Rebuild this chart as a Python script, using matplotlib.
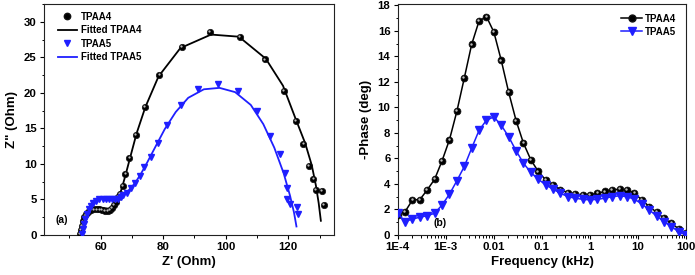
import numpy as np
import matplotlib
matplotlib.use("Agg")
import matplotlib.pyplot as plt
from matplotlib.ticker import MultipleLocator, FixedLocator, FixedFormatter, LogLocator, NullFormatter
from matplotlib.transforms import offset_copy
from matplotlib.lines import Line2D

plt.rcParams['font.family'] = ['Liberation Sans', 'DejaVu Sans']
plt.rcParams['font.weight'] = 'bold'

# ---------------- Panel (a) Nyquist data ----------------
tpaa4_zr = [53.4, 53.6, 53.9, 54.3, 54.8, 55.4, 56.1, 56.9, 57.8, 58.7, 59.6, 60.5, 61.4, 62.2,
            63.0, 63.7, 64.3, 64.8, 65.4, 66.2, 67.0, 67.9, 69.2, 71.2, 74.2, 78.8, 86.0, 95.0,
            104.4, 112.6, 118.7, 122.4, 124.8, 126.7, 128.0, 128.7, 130.7, 131.5]
tpaa4_zi = [0.2, 0.7, 1.3, 1.9, 2.5, 2.9, 3.3, 3.5, 3.6, 3.6, 3.6, 3.5, 3.4, 3.4,
            3.5, 3.8, 4.2, 4.7, 5.3, 5.8, 6.9, 8.6, 10.9, 14.1, 18.0, 22.5, 26.5, 28.6,
            27.9, 24.7, 20.3, 16.1, 12.8, 9.75, 7.9, 6.3, 6.2, 4.2]
fit4_zr = [53.3, 53.6, 54.2, 55.2, 56.5, 58.0, 59.5, 61.0, 62.5, 63.8, 64.8, 65.8, 66.8, 68.0,
           69.5, 71.5, 74.3, 78.5, 85.5, 95.3, 104.2, 112.8, 118.3, 122.2, 125.4, 127.5,
           128.8, 129.7, 130.4]
fit4_zi = [0.0, 1.0, 2.0, 2.9, 3.5, 3.8, 3.9, 3.8, 3.7, 3.9, 4.4, 5.3, 6.6, 8.5,
           11.0, 14.3, 18.0, 22.3, 26.3, 28.2, 27.9, 24.8, 21.0, 16.5, 12.9, 9.8,
           7.0, 4.5, 2.0]
tpaa5_zr = [54.2, 54.4, 54.7, 55.1, 55.6, 56.2, 56.9, 57.7, 58.6, 59.6, 60.6, 61.6, 62.6, 63.6,
            64.6, 65.5, 66.4, 67.3, 68.3, 69.7, 71.0, 72.6, 73.9, 76.0, 78.4, 81.3, 85.7, 91.0,
            97.6, 104.0, 109.9, 114.3, 117.4, 118.8, 119.5, 119.7, 120.6, 122.7, 123.2]
tpaa5_zi = [0.2, 0.8, 1.5, 2.2, 2.9, 3.6, 4.1, 4.5, 4.8, 5.0, 5.1, 5.1, 5.1, 5.0,
            5.0, 5.1, 5.3, 5.6, 5.9, 6.6, 7.3, 8.3, 9.6, 11.0, 13.0, 15.5, 18.3, 20.5,
            21.3, 20.2, 17.5, 13.9, 11.4, 8.7, 6.6, 5.0, 4.4, 4.0, 3.0]
fit5_zr = [53.8, 54.5, 55.5, 57.0, 59.0, 61.0, 63.0, 65.0, 67.0, 69.0, 71.0, 73.0, 75.0, 77.5,
           80.5, 84.0, 88.0, 93.0, 98.0, 103.0, 108.0, 112.0, 115.5, 118.5, 120.5, 121.8, 122.6]
fit5_zi = [0.0, 1.5, 3.0, 4.3, 5.0, 5.2, 5.1, 5.0, 5.5, 6.3, 7.3, 8.7, 10.3, 12.4,
           14.9, 17.3, 19.3, 20.5, 20.7, 20.1, 18.3, 15.6, 12.3, 8.7, 5.6, 3.2, 1.2]

# ---------------- Panel (b) Bode phase data ----------------
freq_khz = [1.0e-4, 1.426e-4, 2.03e-4, 2.90e-4, 4.12e-4, 5.87e-4, 8.38e-4, 1.194e-3, 1.70e-3,
            2.43e-3, 3.45e-3, 4.92e-3, 7.02e-3, 0.01, 0.01425, 0.0203, 0.029, 0.0412, 0.0587,
            0.0838, 0.119, 0.170, 0.243, 0.345, 0.492, 0.702, 1.0, 1.425, 2.03, 2.90, 4.12,
            5.87, 8.38, 11.94, 17.0, 24.3, 34.5, 49.2, 70.2, 100.0]
phase4 = [1.6, 1.83, 2.75, 2.78, 3.54, 4.37, 5.82, 7.47, 9.69, 12.31, 14.93, 16.77, 17.11,
          15.90, 13.68, 11.19, 8.96, 7.2, 5.89, 4.98, 4.32, 3.93, 3.54, 3.33, 3.2, 3.14, 3.14,
          3.27, 3.41, 3.54, 3.59, 3.54, 3.27, 2.75, 2.23, 1.78, 1.31, 0.92, 0.47, 0.13]
phase5 = [1.7, 1.05, 1.26, 1.39, 1.52, 1.7, 2.36, 3.2, 4.25, 5.37, 6.8, 8.2, 9.0, 9.25,
          8.6, 7.7, 6.6, 5.63, 4.9, 4.37, 3.93, 3.59, 3.27, 3.01, 2.88, 2.8, 2.75, 2.8, 2.88,
          3.01, 3.07, 3.01, 2.8, 2.44, 1.96, 1.49, 1.05, 0.65, 0.26, 0.0]
xtick_vals = [1e-4, 1e-3, 1e-2, 1e-1, 1, 10, 100]
xtick_labels = ['1E-4', '1E-3', '0.01', '0.1', '1', '10', '100']

BLUE = '#1f1fff'
W, H = 695, 275
fig = plt.figure(figsize=(W / 100, H / 100), dpi=100)

axa = fig.add_axes([44 / W, (H - 235) / H, 290 / W, 231 / H])
axb = fig.add_axes([397.7 / W, (H - 235) / H, 288.5 / W, 231 / H])

TICKFS = 8.2
LABFS = 9.5


def style(ax):
    for s in ax.spines.values():
        s.set_linewidth(0.8)
        s.set_color('#222222')
    ax.tick_params(which='major', direction='out', length=3.2, width=0.8, labelsize=TICKFS, pad=2)
    ax.tick_params(which='minor', direction='out', length=1.8, width=0.7)
    ax.tick_params(top=False, right=False, which='both')
    for lab in ax.get_xticklabels() + ax.get_yticklabels():
        lab.set_fontweight('bold')


def sphere(ax, x, y, size, zorder=3):
    ax.plot(x, y, 'o', ms=size, mfc='black', mec='#111111', mew=0.5, ls='none', zorder=zorder)
    tr = offset_copy(ax.transData, fig=fig, x=-0.6, y=0.6, units='points')
    ax.plot(x, y, 'o', ms=size * 0.35, mfc='#bbbbbb', mec='none', ls='none', zorder=zorder + 0.1,
            transform=tr)


# ---- panel a
axa.plot(fit4_zr, fit4_zi, '-', color='black', lw=1.3, zorder=2)
axa.plot(fit5_zr, fit5_zi, '-', color=BLUE, lw=1.3, zorder=2)
sphere(axa, tpaa4_zr, tpaa4_zi, 4.6, zorder=3)
axa.plot(tpaa5_zr, tpaa5_zi, 'v', ms=4.8, color=BLUE, mec=BLUE, ls='none', zorder=4)
axa.set_xlim(41.9, 134.6)
axa.set_ylim(0, 32.5)
axa.xaxis.set_major_locator(MultipleLocator(20))
axa.xaxis.set_minor_locator(MultipleLocator(10))
axa.yaxis.set_major_locator(MultipleLocator(5))
axa.yaxis.set_minor_locator(MultipleLocator(2.5))
style(axa)
axa.set_xlabel("Z' (Ohm)", fontsize=LABFS, fontweight='bold', labelpad=3)
axa.set_ylabel('Z" (Ohm)', fontsize=LABFS, fontweight='bold', labelpad=4)
axa.text(0.04, 0.05, '(a)', transform=axa.transAxes, fontsize=7.5, fontweight='bold')

h4 = Line2D([], [], marker='o', ms=4.6, mfc='black', mec='#111111', ls='none')
h4f = Line2D([], [], color='black', lw=1.3)
h5 = Line2D([], [], marker='v', ms=4.8, color=BLUE, ls='none')
h5f = Line2D([], [], color=BLUE, lw=1.3)
axa.legend([h4, h4f, h5, h5f], ['TPAA4', 'Fitted TPAA4', 'TPAA5', 'Fitted TPAA5'],
           loc='upper left', bbox_to_anchor=(0.02, 1.0), frameon=False,
           prop={'weight': 'bold', 'size': 7}, handlelength=2.0, handletextpad=0.4,
           labelspacing=0.35, borderaxespad=0.4)

# ---- panel b
axb.set_xscale('log')
axb.plot(freq_khz, phase4, '-', color='black', lw=1.1, zorder=2)
sphere(axb, freq_khz, phase4, 5.0, zorder=3)
axb.plot(freq_khz, phase5, '-', color=BLUE, lw=1.1, zorder=4)
axb.plot(freq_khz, phase5, 'v', ms=5.2, color=BLUE, mec=BLUE, ls='none', zorder=5)
axb.set_xlim(1e-4, 100)
axb.set_ylim(0, 18.1)
axb.xaxis.set_major_locator(FixedLocator(xtick_vals))
axb.xaxis.set_major_formatter(FixedFormatter(xtick_labels))
axb.xaxis.set_minor_locator(LogLocator(base=10, subs=np.arange(2, 10), numticks=20))
axb.xaxis.set_minor_formatter(NullFormatter())
axb.yaxis.set_major_locator(MultipleLocator(2))
axb.yaxis.set_minor_locator(MultipleLocator(1))
style(axb)
axb.set_xlabel('Frequency (kHz)', fontsize=LABFS, fontweight='bold', labelpad=3)
axb.set_ylabel('-Phase (deg)', fontsize=LABFS, fontweight='bold', labelpad=4)
axb.text(0.125, 0.04, '(b)', transform=axb.transAxes, fontsize=7.5, fontweight='bold')

g4 = Line2D([], [], color='black', lw=1.1, marker='o', ms=5.0, mfc='black', mec='#111111')
g5 = Line2D([], [], color=BLUE, lw=1.1, marker='v', ms=5.2, mfc=BLUE, mec=BLUE)
axb.legend([g4, g5], ['TPAA4', 'TPAA5'], loc='upper right', frameon=False,
           prop={'weight': 'bold', 'size': 7}, handlelength=2.2, handletextpad=0.3,
           labelspacing=0.3, borderaxespad=0.6)

fig.savefig('out.png', dpi=100)
